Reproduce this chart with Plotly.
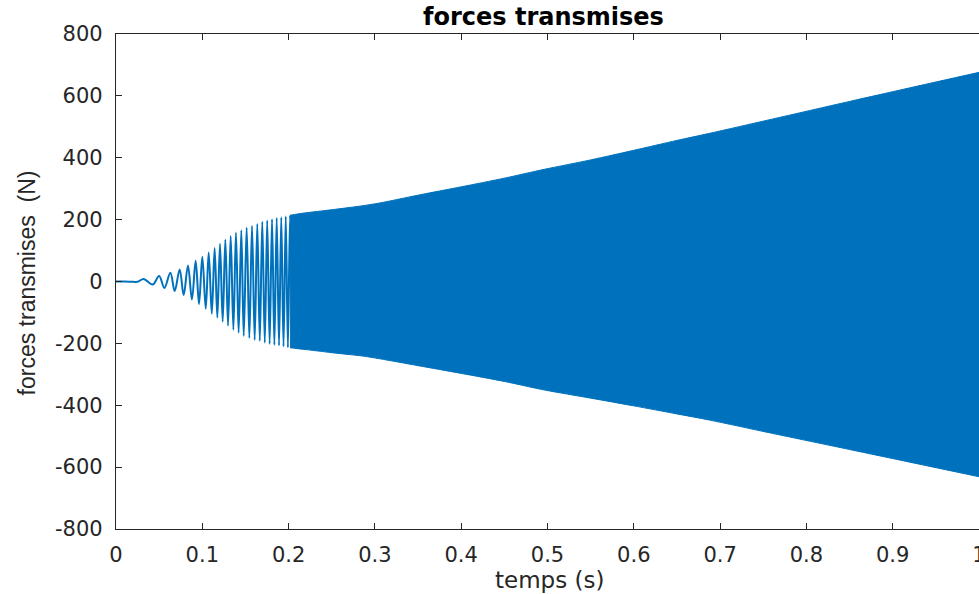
import plotly.graph_objects as go

# early oscillation: successive peaks / troughs
osc_t = [0.0, 0.01, 0.02, 0.025, 0.032, 0.0425, 0.050, 0.056, 0.063, 0.068, 0.0738,
         0.0784, 0.0834, 0.088, 0.0923, 0.0962, 0.100, 0.104, 0.1074, 0.111, 0.1143,
         0.1174, 0.1205, 0.1236, 0.1267, 0.1298, 0.1329, 0.136, 0.139, 0.1421, 0.1452,
         0.148, 0.1514, 0.1545, 0.1576, 0.1607, 0.1637, 0.1666, 0.1695, 0.1724, 0.1752,
         0.178, 0.1808, 0.1835, 0.1862, 0.1889, 0.1915, 0.1941, 0.1967, 0.1992, 0.2017,
         0.2042]
osc_v = [0, 0, -1, -1, 8, -10, 18, -21, 28, -31, 39,
         -44, 52, -58, 67, -73, 80, -88, 94, -104, 108,
         -117, 122, -130, 135, -143, 147, -156, 158, -166, 166,
         -176, 174, -183, 180, -189, 186, -192, 193, -198, 197,
         -202, 201, -205, 205, -207, 208, -210, 211, -213, 214,
         -215]

# envelope of the dense part
env_t = [0.2017, 0.21, 0.22, 0.235, 0.25, 0.27, 0.286, 0.306,
         0.35, 0.4, 0.45, 0.497, 0.55, 0.6, 0.65, 0.688, 0.759, 0.85, 0.92, 1.0]
env_upper = [214, 218, 222, 227, 232, 239, 245, 254,
             279, 306, 334, 363, 393, 424, 456, 479, 524, 582, 626, 676]
env_lower = [-214, -217, -220, -225, -230, -236, -241, -250,
             -272, -297, -323, -351, -377, -402, -428, -448, -490, -543, -584, -631]

x_ticks = [0, 0.1, 0.2, 0.3, 0.4, 0.5, 0.6, 0.7, 0.8, 0.9, 1]
x_labels = ["0", "0.1", "0.2", "0.3", "0.4", "0.5", "0.6", "0.7", "0.8", "0.9", "1"]
y_ticks = [-800, -600, -400, -200, 0, 200, 400, 600, 800]
y_labels = ["-800", "-600", "-400", "-200", "0", "200", "400", "600", "800"]

BLUE = "#0072BD"
AX = "#262626"

fig = go.Figure()
fig.add_trace(go.Scatter(
    x=env_t, y=env_lower, mode="lines",
    line=dict(color=BLUE, width=1, shape="spline", smoothing=0.8),
    hoverinfo="skip", showlegend=False))
fig.add_trace(go.Scatter(
    x=env_t, y=env_upper, mode="lines", fill="tonexty", fillcolor=BLUE,
    line=dict(color=BLUE, width=1, shape="spline", smoothing=0.8),
    hoverinfo="skip", showlegend=False))
fig.add_trace(go.Scatter(
    x=osc_t, y=osc_v, mode="lines",
    line=dict(color=BLUE, width=2, shape="spline", smoothing=1.0),
    showlegend=False))

tick_font = dict(family="DejaVu Sans", size=21, color=AX)
fig.update_layout(
    width=979, height=594,
    margin=dict(l=116, r=0, t=34, b=65, autoexpand=False),
    paper_bgcolor="white", plot_bgcolor="white",
    xaxis=dict(range=[0, 1], tickvals=x_ticks, ticktext=x_labels,
               showgrid=False, zeroline=False, showline=True, linecolor=AX,
               linewidth=1.3, mirror="ticks", ticks="inside", ticklen=6,
               tickwidth=1.3, tickcolor=AX, tickfont=tick_font,
               ticklabelstandoff=7, ticklabeloverflow="allow", automargin=False),
    yaxis=dict(range=[-800, 800], tickvals=y_ticks, ticktext=y_labels,
               showgrid=False, zeroline=False, showline=True, linecolor=AX,
               linewidth=1.3, mirror=False, ticks="inside", ticklen=6,
               tickwidth=1.3, tickcolor=AX, tickfont=tick_font,
               ticklabelstandoff=8, automargin=False),
    annotations=[
        dict(text="<b>forces transmises</b>", xref="paper", yref="paper",
             x=0.4948, y=1.034, xanchor="center", yanchor="middle",
             showarrow=False, font=dict(family="DejaVu Sans", size=24, color="black")),
        dict(text="temps (s)", xref="paper", yref="paper",
             x=0.5023, y=-0.104, xanchor="center", yanchor="middle",
             showarrow=False, font=dict(family="DejaVu Sans", size=23, color=AX)),
        dict(text="forces transmises  (N)", xref="paper", yref="paper",
             x=-0.1026, y=0.497, xanchor="center", yanchor="middle", textangle=-90,
             showarrow=False, font=dict(family="Liberation Sans", size=23, color=AX)),
    ],
)
fig.write_html("out.html")
